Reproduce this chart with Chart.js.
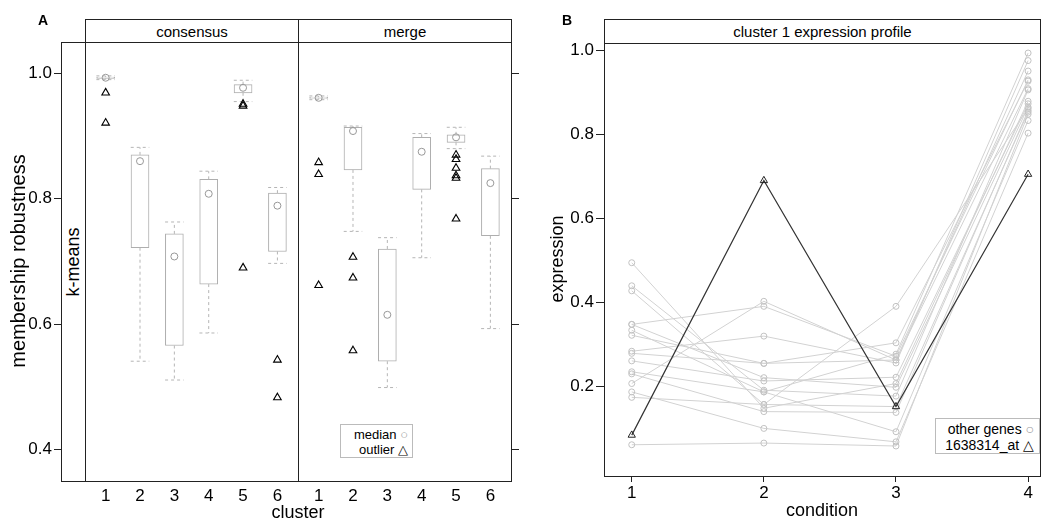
<!DOCTYPE html>
<html>
<head>
<meta charset="utf-8">
<script src="https://cdn.jsdelivr.net/npm/chart.js@4.4.1/dist/chart.umd.min.js"></script>
<style>
  html, body { margin: 0; padding: 0; background: #fff; }
  #wrap { position: relative; width: 1046px; height: 523px; overflow: hidden;
          font-family: "Liberation Sans", Arial, Helvetica, sans-serif; color: #000; }
  canvas { position: absolute; top: 0; }
  .box { position: absolute; box-sizing: border-box; border: 1px solid #222; }
  .strip { display: flex; align-items: center; justify-content: center; font-size: 15px; background: #fff; }
  .lbl { position: absolute; white-space: nowrap; transform: translate(-50%, -50%); }
  .rot { transform: translate(-50%, -50%) rotate(-90deg); }
  .legend { position: absolute; box-sizing: border-box; border: 1px solid #bbb; background: #fff;
            text-align: right; line-height: 15px; }
</style>
</head>
<body>
<div id="wrap">
  <canvas id="chartA" width="530" height="523" style="left:0"></canvas>
  <canvas id="chartB" width="516" height="523" style="left:530px"></canvas>

  <!-- panel A frames and strips -->
  <div class="box strip" style="left:85px;top:19px;width:214px;height:24px">consensus</div>
  <div class="box strip" style="left:298px;top:19px;width:214px;height:24px">merge</div>
  <div class="box" style="left:85px;top:42px;width:214px;height:440px"></div>
  <div class="box" style="left:298px;top:42px;width:214px;height:440px"></div>
  <div class="box" style="left:61px;top:42px;width:25px;height:440px;background:#fff"></div>
  <div class="lbl rot" style="left:73px;top:262px;font-size:18px">k-means</div>

  <div class="lbl" style="left:43px;top:20px;font-size:14px;font-weight:bold">A</div>
  <div class="lbl rot" style="left:18px;top:261px;font-size:20px">membership robustness</div>
  <div class="lbl" style="left:298px;top:512px;font-size:18px">cluster</div>

  <div class="legend" style="left:340px;top:424px;width:73px;height:34px;font-size:13px;padding:2px 4px 0 0">
    median <span style="color:#999">&#9675;</span><br>outlier <span>&#9651;</span>
  </div>

  <!-- panel B frames and strips -->
  <div class="box strip" style="left:604px;top:19px;width:437px;height:25px">cluster 1 expression profile</div>
  <div class="box" style="left:604px;top:43px;width:437px;height:434px"></div>
  <div class="lbl" style="left:567px;top:20px;font-size:14px;font-weight:bold">B</div>
  <div class="lbl rot" style="left:557px;top:259px;font-size:18px">expression</div>
  <div class="lbl" style="left:822px;top:510px;font-size:18px">condition</div>

  <div class="legend" style="left:935px;top:418px;width:105px;height:36px;font-size:14px;padding:2px 5px 0 0;line-height:16px">
    other genes <span style="color:#999">&#9675;</span><br>1638314_at <span>&#9651;</span>
  </div>
</div>

<script>
// ---- panel A: membership robustness per cluster ----
const clusterLabels = [1, 2, 3, 4, 5, 6];

// consensus: whisker low, q1, median, q3, whisker high
const consensusLow  = [0.990, 0.541, 0.511, 0.586, 0.955, 0.697];
const consensusQ1   = [0.992, 0.722, 0.566, 0.664, 0.969, 0.716];
const consensusMed  = [0.993, 0.860, 0.708, 0.808, 0.977, 0.789];
const consensusQ3   = [0.994, 0.870, 0.744, 0.831, 0.982, 0.809];
const consensusHigh = [0.996, 0.882, 0.763, 0.844, 0.989, 0.818];
const consensusOutliers = [[0.969, 0.921], [], [], [], [0.951, 0.948, 0.690], [0.543, 0.483]];

// merge
const mergeLow  = [0.958, 0.748, 0.499, 0.706, 0.880, 0.593];
const mergeQ1   = [0.960, 0.846, 0.541, 0.815, 0.890, 0.741];
const mergeMed  = [0.961, 0.908, 0.615, 0.875, 0.898, 0.825];
const mergeQ3   = [0.962, 0.914, 0.720, 0.898, 0.902, 0.848];
const mergeHigh = [0.964, 0.916, 0.738, 0.904, 0.914, 0.868];
const mergeOutliers = [[0.858, 0.839, 0.662], [0.707, 0.674, 0.558], [], [], [0.870, 0.863, 0.849, 0.837, 0.833, 0.768], []];

const robustnessTicks = [0.4, 0.6, 0.8, 1.0];

// ---- panel B: expression profiles of cluster 1 (one entry per gene) ----
const conditions = [1, 2, 3, 4];
const exprCond1 = [0.494, 0.439, 0.427, 0.347, 0.347, 0.333, 0.321, 0.283, 0.278, 0.260, 0.234, 0.229, 0.206, 0.186, 0.173, 0.060];
const exprCond2 = [0.147, 0.190, 0.156, 0.390, 0.220, 0.186, 0.254, 0.319, 0.254, 0.212, 0.186, 0.139, 0.402, 0.099, 0.156, 0.064];
const exprCond3 = [0.206, 0.176, 0.151, 0.271, 0.197, 0.091, 0.262, 0.255, 0.303, 0.221, 0.276, 0.137, 0.262, 0.067, 0.390, 0.057];
const exprCond4 = [0.879, 0.906, 0.853, 0.930, 0.865, 0.833, 0.951, 0.976, 0.927, 0.873, 0.994, 0.857, 0.909, 0.803, 0.862, 0.848];
const highlightGene = '1638314_at';
const highlightValues = [0.083, 0.690, 0.151, 0.705];
const expressionTicks = [0.2, 0.4, 0.6, 0.8, 1.0];

Chart.defaults.font.family = '"Liberation Sans", Arial, Helvetica, sans-serif';
Chart.defaults.color = '#000';

const BOX_GRAY = '#aeaeae';
const CAP_HALF = 0.27;          // half width of whisker caps, in cluster units
const MERGE_SHIFT = 6.2;        // merge panel sits right of consensus on one x scale

const consensusPos = clusterLabels.map(c => c);
const mergePos = clusterLabels.map(c => c + MERGE_SHIFT);
const allPos = consensusPos.concat(mergePos);
const allTickLabels = clusterLabels.concat(clusterLabels);

function boxes(pos, q1, q3) {
  return pos.map((x, i) => ({ x, y: [q1[i], q3[i]] }));
}

function whiskers(pos, low, q1, q3, high) {
  const pts = [];
  pos.forEach((x, i) => {
    pts.push({ x, y: q3[i] }, { x, y: high[i] }, { x, y: null });
    pts.push({ x, y: q1[i] }, { x, y: low[i] }, { x, y: null });
    pts.push({ x: x - CAP_HALF, y: high[i] }, { x: x + CAP_HALF, y: high[i] }, { x, y: null });
    pts.push({ x: x - CAP_HALF, y: low[i] }, { x: x + CAP_HALF, y: low[i] }, { x, y: null });
  });
  return pts;
}

function points(pos, vals) {
  return pos.map((x, i) => ({ x, y: vals[i] }));
}

function outlierPoints(pos, lists) {
  const pts = [];
  pos.forEach((x, i) => lists[i].forEach(y => pts.push({ x, y })));
  return pts;
}

function fixedTicks(values) {
  return scale => { scale.ticks = values.map(v => ({ value: v })); };
}

new Chart(document.getElementById('chartA'), {
  type: 'bar',
  data: {
    datasets: [
      {
        type: 'scatter', order: 0,
        data: outlierPoints(consensusPos, consensusOutliers).concat(outlierPoints(mergePos, mergeOutliers)),
        pointStyle: 'triangle', pointRadius: 4.4, borderWidth: 1.1,
        pointBorderColor: '#000', pointBackgroundColor: 'rgba(0,0,0,0)'
      },
      {
        type: 'scatter', order: 1,
        data: points(consensusPos, consensusMed).concat(points(mergePos, mergeMed)),
        pointStyle: 'circle', pointRadius: 3.5, borderWidth: 1,
        pointBorderColor: '#999', pointBackgroundColor: 'rgba(255,255,255,0)'
      },
      {
        type: 'line', order: 2,
        data: whiskers(consensusPos, consensusLow, consensusQ1, consensusQ3, consensusHigh)
          .concat(whiskers(mergePos, mergeLow, mergeQ1, mergeQ3, mergeHigh)),
        borderColor: '#b5b5b5', borderWidth: 1, borderDash: [3, 3],
        pointRadius: 0, spanGaps: false, fill: false
      },
      {
        type: 'bar', order: 3,
        data: boxes(consensusPos, consensusQ1, consensusQ3).concat(boxes(mergePos, mergeQ1, mergeQ3)),
        barThickness: 18, borderWidth: 1, borderColor: BOX_GRAY,
        borderSkipped: false, backgroundColor: 'rgba(255,255,255,1)'
      }
    ]
  },
  options: {
    responsive: false,
    animation: false,
    layout: { padding: { top: 42, left: 0, right: 0, bottom: 0 } },
    plugins: { legend: { display: false }, tooltip: { enabled: false } },
    scales: {
      x: {
        type: 'linear', min: -0.3, max: 12.8, offset: false,
        afterBuildTicks: fixedTicks(allPos),
        afterFit: s => { s.height = 42; },
        grid: { display: false, drawTicks: false },
        border: { display: false },
        ticks: {
          autoSkip: false, maxRotation: 0, padding: 5, font: { size: 17 },
          callback: (v, i) => allTickLabels[i]
        }
      },
      y: {
        position: 'left', min: 0.35, max: 1.05,
        afterBuildTicks: fixedTicks(robustnessTicks),
        afterFit: s => { s.width = 61; },
        grid: { drawOnChartArea: false, drawTicks: true, tickLength: 7, color: '#222' },
        border: { display: false },
        ticks: { padding: 2, font: { size: 17 }, callback: v => v.toFixed(1) }
      },
      y2: {
        position: 'right', min: 0.35, max: 1.05,
        afterBuildTicks: fixedTicks(robustnessTicks),
        afterFit: s => { s.width = 19; },
        grid: { drawOnChartArea: false, drawTicks: true, tickLength: 8, color: '#222' },
        border: { display: false },
        ticks: { padding: 0, font: { size: 15 }, callback: () => '' }
      }
    }
  }
});

// ---- panel B ----
const byCondition = [exprCond1, exprCond2, exprCond3, exprCond4];
const geneSets = exprCond1.map((_, g) => ({
  type: 'line', order: 1,
  data: conditions.map((c, k) => ({ x: c, y: byCondition[k][g] })),
  borderColor: '#d2d2d2', borderWidth: 1,
  pointStyle: 'circle', pointRadius: 3, pointBorderWidth: 1,
  pointBorderColor: '#c2c2c2', pointBackgroundColor: 'rgba(255,255,255,0)'
}));

geneSets.unshift({
  type: 'line', order: 0, label: highlightGene,
  data: conditions.map((c, k) => ({ x: c, y: highlightValues[k] })),
  borderColor: '#333', borderWidth: 1.2,
  pointStyle: 'triangle', pointRadius: 4.2, pointBorderWidth: 1,
  pointBorderColor: '#222', pointBackgroundColor: 'rgba(255,255,255,0)'
});

new Chart(document.getElementById('chartB'), {
  type: 'line',
  data: { datasets: geneSets },
  options: {
    responsive: false,
    animation: false,
    layout: { padding: { top: 44, left: 0, right: 6, bottom: 0 } },
    plugins: { legend: { display: false }, tooltip: { enabled: false } },
    scales: {
      x: {
        type: 'linear', min: 0.79, max: 4.09,
        afterBuildTicks: fixedTicks(conditions),
        afterFit: s => { s.height = 47; },
        grid: { drawOnChartArea: false, drawTicks: true, tickLength: 6, color: '#222' },
        border: { display: false },
        ticks: { autoSkip: false, maxRotation: 0, padding: 1, font: { size: 17 }, callback: v => v }
      },
      y: {
        min: -0.0145, max: 1.0155,
        afterBuildTicks: fixedTicks(expressionTicks),
        afterFit: s => { s.width = 74; },
        grid: { drawOnChartArea: false, drawTicks: true, tickLength: 8, color: '#222' },
        border: { display: false },
        ticks: { padding: 2, font: { size: 17 }, callback: v => v.toFixed(1) }
      }
    }
  }
});
</script>
</body>
</html>
